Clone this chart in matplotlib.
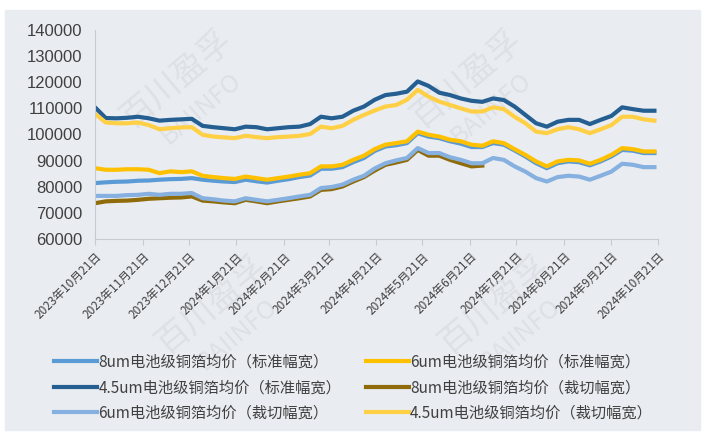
import numpy as np
import pandas as pd
import matplotlib
matplotlib.use('Agg')
import matplotlib.pyplot as plt
from matplotlib.patches import Rectangle

plt.rcParams['font.family'] = ['Noto Sans CJK SC', 'DejaVu Sans']

# weekly samples, 2023-10-21 .. 2024-10-19
dates = pd.date_range('2023-10-21', periods=53, freq='7D')

std_8um = [81.4, 81.7, 81.9, 82.0, 82.3, 82.4, 82.7, 82.9, 83.0, 83.3,
           82.7, 82.3, 82.0, 81.8, 82.7, 82.1, 81.6, 82.3, 82.9, 83.7,
           84.3, 86.9, 86.9, 87.5, 89.4, 91.0, 93.7, 95.4, 95.9, 96.7,
           100.5, 99.2, 98.6, 97.4, 96.5, 95.2, 95.2, 96.7, 96.1, 93.9,
           91.6, 89.0, 87.1, 89.0, 89.7, 89.4, 88.2, 89.7, 91.6, 94.1,
           93.8, 92.9, 92.9]
std_6um = [87.1, 86.5, 86.5, 86.7, 86.7, 86.5, 85.2, 85.9, 85.6, 85.9,
           84.2, 83.7, 83.3, 83.0, 83.9, 83.3, 82.7, 83.3, 83.9, 84.6,
           85.2, 87.8, 87.8, 88.4, 90.3, 91.9, 94.4, 96.1, 96.7, 97.4,
           101.1, 99.9, 99.2, 98.0, 97.4, 96.1, 95.7, 97.4, 96.7, 94.4,
           92.2, 89.7, 87.8, 89.7, 90.3, 90.1, 88.8, 90.3, 92.2, 94.8,
           94.4, 93.5, 93.5]
std_45um = [110.4, 106.3, 106.2, 106.4, 106.8, 106.2, 105.3, 105.6, 105.8, 106.0,
            103.3, 102.8, 102.4, 102.0, 103.0, 102.8, 102.0, 102.4, 102.8, 103.0,
            104.0, 106.8, 106.2, 106.8, 109.1, 110.7, 113.3, 115.1, 115.6, 116.4,
            120.3, 118.6, 116.0, 115.1, 113.8, 112.9, 112.5, 113.8, 113.2, 110.7,
            107.5, 104.3, 103.0, 104.9, 105.6, 105.6, 104.0, 105.6, 107.1, 110.4,
            109.7, 109.1, 109.1]
cut_8um = [73.7, 74.4, 74.6, 74.7, 75.0, 75.4, 75.6, 75.8, 75.9, 76.3,
           74.7, 74.4, 74.0, 73.7, 75.0, 74.4, 73.7, 74.4, 75.0, 75.6,
           76.3, 78.8, 79.1, 80.1, 82.0, 83.7, 86.2, 88.4, 89.3, 90.3,
           94.1, 91.9, 91.9, 90.3, 89.0, 87.8, 88.1] + [np.nan] * 16
cut_6um = [76.5, 76.5, 76.5, 76.8, 76.9, 77.3, 76.9, 77.3, 77.3, 77.6,
           75.6, 75.2, 74.7, 74.4, 75.6, 75.0, 74.4, 75.0, 75.6, 76.3,
           76.9, 79.5, 79.9, 80.8, 82.7, 84.2, 87.0, 89.0, 90.1, 91.0,
           94.8, 92.9, 92.9, 91.3, 90.3, 89.0, 89.0, 91.0, 90.3, 87.8,
           85.8, 83.3, 82.0, 83.7, 84.2, 83.9, 82.7, 84.2, 85.8, 88.8,
           88.4, 87.5, 87.5]
cut_45um = [107.9, 104.6, 104.3, 104.3, 104.6, 103.6, 102.0, 102.4, 102.7, 102.8,
            99.9, 99.2, 98.9, 98.6, 99.5, 99.0, 98.6, 99.0, 99.2, 99.5,
            100.2, 103.0, 102.4, 103.3, 105.6, 107.5, 109.2, 110.7, 111.3, 113.3,
            117.1, 114.5, 112.6, 111.3, 110.0, 108.8, 108.8, 110.4, 109.7, 106.8,
            104.3, 101.1, 100.5, 102.0, 102.8, 102.0, 100.5, 102.0, 103.6, 106.8,
            106.8, 105.8, 105.3]

series = [
    ('8um电池级铜箔均价（标准幅宽）', std_8um, '#5b9bd5'),
    ('6um电池级铜箔均价（标准幅宽）', std_6um, '#ffc000'),
    ('4.5um电池级铜箔均价（标准幅宽）', std_45um, '#255e91'),
    ('8um电池级铜箔均价（裁切幅宽）', cut_8um, '#8f6b0a'),
    ('6um电池级铜箔均价（裁切幅宽）', cut_6um, '#86b0df'),
    ('4.5um电池级铜箔均价（裁切幅宽）', cut_45um, '#ffcf45'),
]

fig = plt.figure(figsize=(7.07, 4.34), dpi=100)
fig.patches.append(Rectangle((5 / 707, 4 / 434), 695 / 707, 420 / 434,
                             transform=fig.transFigure, color='#e9edf1', zorder=-5))

# faint watermark
for (wx, wy) in [(0.25, 0.82), (0.66, 0.82), (0.30, 0.30), (0.70, 0.30)]:
    fig.text(wx, wy, '百川盈孚', fontsize=24, color='#dde0e4', rotation=40,
             ha='center', va='center', zorder=-4)
    fig.text(wx + 0.035, wy - 0.07, 'BAIINFO', fontsize=18, color='#dde0e4',
             rotation=40, ha='center', va='center', zorder=-4)

ax = fig.add_axes([95 / 707, 1 - 239 / 434, 562.5 / 707, 209 / 434])
ax.set_facecolor('none')

handles = []
for name, vals, color in series:
    h, = ax.plot(dates, np.array(vals) * 1000, color=color, lw=3, label=name,
                 solid_joinstyle='round')
    handles.append(h)

ax.set_xlim(pd.Timestamp('2023-10-21'), pd.Timestamp('2024-10-21'))
ax.set_ylim(60000, 140000)
ax.set_yticks(np.arange(60000, 140001, 10000))

ticks = [pd.Timestamp(y, m, 21) for y, m in
         [(2023, 10), (2023, 11), (2023, 12)] + [(2024, i) for i in range(1, 11)]]
ax.set_xticks(ticks)
ax.set_xticklabels([f'{t.year}年{t.month}月{t.day}日' for t in ticks],
                   rotation=45, ha='right', va='top', rotation_mode='anchor',
                   fontsize=8.5, color='#404040')

for s in ['top', 'right']:
    ax.spines[s].set_visible(False)
for s in ['left', 'bottom']:
    ax.spines[s].set_color('#c8cbce')
ax.tick_params(axis='y', length=0, pad=9, labelsize=12, labelcolor='#404040')
ax.tick_params(axis='x', length=4, color='#c8cbce', pad=4)
for lbl in ax.get_yticklabels():
    lbl.set_family(['Liberation Sans', 'DejaVu Sans'])

# legend reads row by row, two per row
order = [0, 2, 4, 1, 3, 5]
fig.legend([handles[i] for i in order], [series[i][0] for i in order],
           loc='upper center', bbox_to_anchor=(0.5, 1 - 340 / 434), ncol=2,
           frameon=False, fontsize=11, handlelength=2.8, handletextpad=0.1,
           columnspacing=1.6, labelspacing=0.55, labelcolor='#404040')

fig.savefig('out.png', dpi=100, facecolor='white')
